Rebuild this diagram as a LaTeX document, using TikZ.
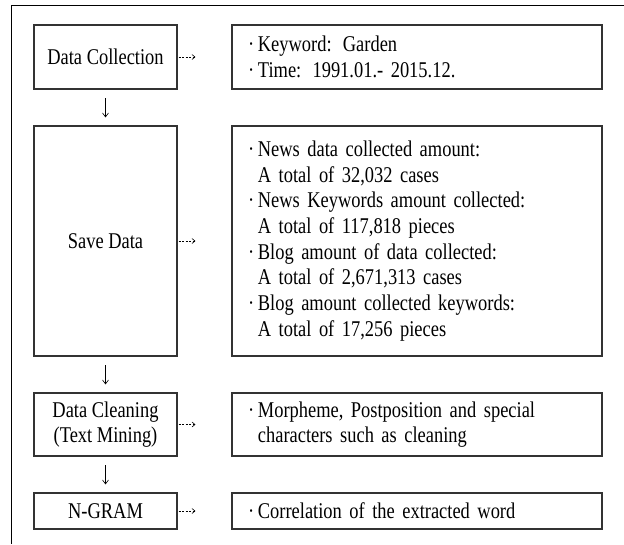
\documentclass[tikz,border=0pt]{standalone}
\usepackage{fontspec}
\setmainfont[FakeStretch=0.82]{Liberation Serif}
\usetikzlibrary{arrows.meta}

\newcommand{\bulitem}{·\,}
\newcommand{\bulindent}{\hphantom{·\,}}

\begin{document}
\begin{tikzpicture}[x=1pt,y=-1pt,
		stage/.style={draw=black!80,line width=1.1pt,minimum width=143pt,inner sep=0pt,align=center,font=\fontsize{22.5}{25.7}\selectfont},
		detail/.style={draw=black!80,line width=1.1pt,minimum width=370pt,text width=338pt,inner xsep=16pt,inner ysep=0pt,align=left,font=\fontsize{22.5}{25.7}\selectfont},
		flow/.style={line width=0.6pt,-{Straight Barb[length=4pt,width=6pt]},shorten <=8.5pt,shorten >=8pt},
		dotflow/.style={line width=0.6pt,dash pattern=on 2pt off 1.5pt,-{Straight Barb[length=3pt,width=5pt]},shorten <=1pt,shorten >=36pt}]
		\useasboundingbox (0,0) rectangle (624,544);
		
		% the frame (top and left sides only)
		\draw[line width=1pt] (624,5) -- (11,5) -- (11,544);
		
		% the steps on the left
		\node[stage,minimum height=64pt] (dc) at (105.5,57) {Data Collection};
		\node[stage,minimum height=230pt] (sd) at (105.5,241) {Save Data};
		\node[stage,minimum height=63pt] (cl) at (105.5,424.5) {Data Cleaning\\(Text Mining)};
		\node[stage,minimum height=36pt] (ng) at (105.5,511) {N-GRAM};
		
		% the details on the right
		\node[detail,minimum height=64pt] (kw) at (417,57)
		{\bulitem Keyword: Garden\\\bulitem Time: 1991.01.- 2015.12.};
		\node[detail,minimum height=230pt] (amt) at (417,241)
		{\bulitem News data collected amount:\\
			\bulindent A total of 32,032 cases\\
			\bulitem News Keywords amount collected:\\
			\bulindent A total of 117,818 pieces\\
			\bulitem Blog amount of data collected:\\
			\bulindent A total of 2,671,313 cases\\
			\bulitem Blog amount collected keywords:\\
			\bulindent A total of 17,256 pieces};
		\node[detail,minimum height=63pt] (mor) at (417,424.5)
		{\bulitem Morpheme, Postposition and special\\\bulindent characters such as cleaning};
		\node[detail,minimum height=36pt] (cor) at (417,511) {\bulitem Correlation of the extracted word};
		
		% arrows
		\foreach \a/\b in {dc/sd,sd/cl,cl/ng}
		\draw[flow] (\a) -- (\b);
		\foreach \a/\b in {dc/kw,sd/amt,cl/mor,ng/cor}
		\draw[dotflow] (\a) -- (\b);
	\end{tikzpicture}
\end{document}
